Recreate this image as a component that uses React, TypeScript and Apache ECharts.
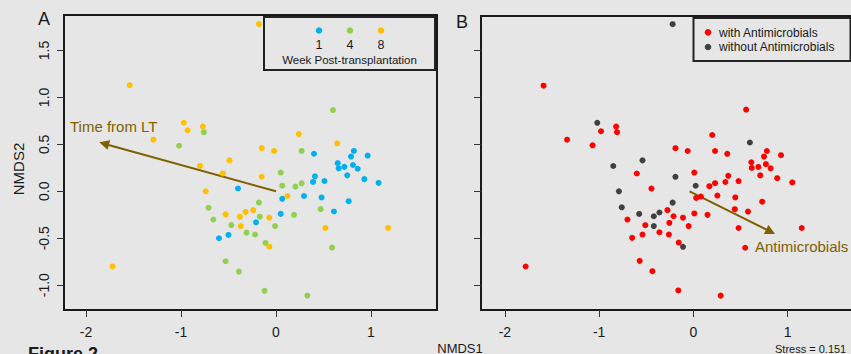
import React, { useEffect, useRef } from "react";
import * as echarts from "echarts";

// Panel A: NMDS coordinates by week post-transplantation
const week1: number[][] = [
  [0.40, 0.40], [0.82, 0.43], [0.79, 0.37], [0.965, 0.38], [0.65, 0.30], [0.66, 0.245],
  [0.72, 0.26], [0.81, 0.28], [0.86, 0.24], [0.75, 0.17], [0.93, 0.13], [1.08, 0.09],
  [0.41, 0.16], [0.39, 0.10], [0.51, 0.11], [0.295, -0.05], [0.48, -0.065], [0.765, -0.105],
  [0.61, -0.215], [0.066, -0.08], [0.05, -0.24], [-0.40, 0.03], [-0.21, -0.33], [-0.50, -0.465],
  [-0.60, -0.50],
];
const week4: number[][] = [
  [0.60, 0.865], [-0.76, 0.63], [-1.02, 0.485], [0.27, 0.43], [0.05, 0.20], [0.066, 0.06],
  [0.205, 0.05], [0.27, 0.085], [-0.18, -0.12], [-0.71, -0.175], [0.47, -0.19], [-0.17, -0.27],
  [0.19, -0.25], [-0.66, -0.30], [-0.47, -0.36], [-0.01, -0.37], [-0.31, -0.44], [-0.22, -0.46],
  [-0.11, -0.55], [0.59, -0.60], [-0.53, -0.745], [-0.39, -0.855], [-0.12, -1.06], [0.33, -1.11],
];
const week8: number[][] = [
  [-0.18, 1.78], [-1.54, 1.13], [-0.97, 0.73], [-0.93, 0.65], [-0.77, 0.69], [-1.29, 0.55],
  [0.24, 0.61], [0.645, 0.51], [-0.15, 0.46], [-0.02, 0.43], [-0.80, 0.27], [-0.49, 0.33],
  [-0.56, 0.19], [-0.15, 0.155], [-0.74, 0.0], [0.12, -0.05], [-0.53, -0.245], [-0.38, -0.27],
  [-0.32, -0.22], [-0.24, -0.20], [-0.07, -0.28], [-0.37, -0.37], [0.52, -0.39], [1.18, -0.39],
  [-0.07, -0.59], [-1.72, -0.80],
];

// Panel B: NMDS coordinates by antimicrobial treatment
const withAntimicrobials: number[][] = [
  [-1.59, 1.125], [0.56, 0.87], [-0.98, 0.64], [-0.82, 0.69], [-0.81, 0.63], [-1.34, 0.55],
  [-1.07, 0.49], [0.20, 0.60], [-0.19, 0.46], [-0.06, 0.43], [0.23, 0.43], [0.36, 0.40],
  [0.78, 0.43], [0.75, 0.37], [0.93, 0.385], [0.615, 0.31], [0.69, 0.26], [0.62, 0.25],
  [0.77, 0.29], [0.82, 0.245], [0.71, 0.17], [0.89, 0.14], [0.37, 0.165], [-0.60, 0.19],
  [0.01, 0.20], [0.17, 0.055], [0.23, 0.087], [0.34, 0.10], [0.48, 0.11], [1.05, 0.095],
  [-0.445, 0.03], [0.08, -0.055], [0.03, -0.07], [0.255, -0.045], [0.445, -0.065], [0.73, -0.11],
  [-0.275, -0.20], [0.44, -0.19], [0.58, -0.215], [-0.21, -0.265], [0.01, -0.235], [0.15, -0.25],
  [-0.70, -0.30], [-0.11, -0.28], [-0.255, -0.335], [-0.51, -0.36], [-0.05, -0.37], [0.48, -0.39],
  [1.15, -0.39], [-0.36, -0.435], [-0.26, -0.46], [-0.54, -0.46], [-0.65, -0.495], [-0.155, -0.545],
  [0.55, -0.60], [-1.78, -0.80], [-0.57, -0.74], [-0.435, -0.85], [-0.16, -1.055], [0.29, -1.11],
];
const withoutAntimicrobials: number[][] = [
  [-0.22, 1.78], [-1.02, 0.73], [0.60, 0.52], [-0.85, 0.27], [-0.54, 0.33], [-0.19, 0.155],
  [0.025, 0.06], [-0.79, 0.0], [-0.22, -0.12], [-0.76, -0.17], [-0.575, -0.24], [-0.42, -0.265],
  [-0.36, -0.225], [-0.42, -0.37], [-0.11, -0.59],
];

// Fitted vectors
const timeVector: number[][] = [[0, 0], [-1.81, 0.507]];
const antimicrobialVector: number[][] = [[-0.04, 0], [0.82, -0.43]];

const xTicks = [-2, -1, 0, 1];
const yTicks = [-1, -0.5, 0, 0.5, 1, 1.5];
const weekLabels = ["1", "4", "8"];

const FONT = "Liberation Sans, Arial, Helvetica, sans-serif";
const BG = "#e6e6e6";
const BLUE = "#00b0f0";
const GREEN = "#92d050";
const ORANGE = "#ffc000";
const RED = "#ff0000";
const DARK = "#404040";
const GOLD = "#7f6000";

export default function App() {
  const ref = useRef<HTMLDivElement>(null);
  useEffect(() => {
    document.body.style.margin = "0";
    if (!ref.current) return;
    const chart = echarts.init(ref.current, undefined, { renderer: "svg" });

    const xAxisCommon = (show: boolean) => ({
      type: "value",
      splitLine: { show: false },
      axisLine: { show: false, onZero: false },
      axisTick: { show: true, inside: false, length: 7, customValues: xTicks, lineStyle: { color: "#333", width: 1 } },
      axisLabel: {
        show,
        customValues: xTicks,
        margin: 15,
        fontSize: 14,
        fontFamily: FONT,
        color: "#1a1a1a",
        formatter: (v: number) => String(v),
      },
    });
    const yAxisCommon = (show: boolean) => ({
      type: "value",
      splitLine: { show: false },
      axisLine: { show: false, onZero: false },
      axisTick: { show: true, inside: false, length: 7, customValues: yTicks, lineStyle: { color: "#333", width: 1 } },
      axisLabel: {
        show,
        customValues: yTicks,
        rotate: 90,
        margin: 13,
        fontSize: 14,
        fontFamily: FONT,
        color: "#1a1a1a",
        formatter: (v: number) => v.toFixed(1),
      },
    });

    const scatter = (data: number[][], color: string, idx: number) => ({
      type: "scatter",
      xAxisIndex: idx,
      yAxisIndex: idx,
      data,
      symbol: "circle",
      symbolSize: 6,
      itemStyle: { color, opacity: 1 },
      silent: true,
    });
    const arrow = (coords: number[][], idx: number) => ({
      type: "lines",
      coordinateSystem: "cartesian2d",
      xAxisIndex: idx,
      yAxisIndex: idx,
      data: [{ coords }],
      symbol: ["none", "triangle"],
      symbolSize: 10,
      lineStyle: { color: GOLD, width: 2, opacity: 1, curveness: 0 },
      itemStyle: { color: GOLD },
      silent: true,
    });

    const txt = (text: string, x: number, y: number, o: any = {}) => ({
      type: "text",
      x,
      y,
      rotation: o.rotation || 0,
      style: {
        text,
        fill: o.fill || "#1a1a1a",
        font: `${o.weight || "normal"} ${o.size || 12}px ${FONT}`,
        align: o.align || "center",
        verticalAlign: o.va || "middle",
      },
      silent: true,
    });

    const legendAColors = [BLUE, GREEN, ORANGE];
    const legendAX = [319, 350, 381];

    chart.setOption({
      animation: false,
      backgroundColor: BG,
      grid: [
        { left: 64, top: 15, width: 373, height: 295, show: true, borderColor: "#1a1a1a", borderWidth: 2, backgroundColor: "transparent", outerBoundsMode: "none" },
        { left: 481, top: 16, width: 373, height: 294, show: true, borderColor: "#1a1a1a", borderWidth: 2, backgroundColor: "transparent", outerBoundsMode: "none" },
      ],
      xAxis: [
        { ...xAxisCommon(true), gridIndex: 0, min: -2.2316, max: 1.695 },
        { ...xAxisCommon(true), gridIndex: 1, min: -2.254, max: 1.705 },
      ],
      yAxis: [
        { ...yAxisCommon(true), gridIndex: 0, min: -1.264, max: 1.8776 },
        { ...yAxisCommon(false), gridIndex: 1, min: -1.263, max: 1.867 },
      ],
      series: [
        arrow(timeVector, 0),
        scatter(week1, BLUE, 0),
        scatter(week4, GREEN, 0),
        scatter(week8, ORANGE, 0),
        arrow(antimicrobialVector, 1),
        scatter(withAntimicrobials, RED, 1),
        scatter(withoutAntimicrobials, DARK, 1),
      ],
      graphic: [
        txt("A", 44, 19, { size: 18 }),
        txt("B", 462, 22, { size: 18 }),
        // legend A
        { type: "rect", shape: { x: 264, y: 17, width: 171, height: 53 }, style: { fill: BG, stroke: "#222", lineWidth: 2 }, silent: true },
        ...legendAColors.map((c, i) => ({ type: "circle", shape: { cx: legendAX[i], cy: 30.5, r: 3.3 }, style: { fill: c }, silent: true })),
        ...weekLabels.map((l, i) => txt(l, legendAX[i], 45, { size: 12.5 })),
        txt("Week Post-transplantation", 349.5, 60, { size: 11.5 }),
        // legend B
        { type: "rect", shape: { x: 693.5, y: 18, width: 157, height: 43 }, style: { fill: BG, stroke: "#222", lineWidth: 2 }, silent: true },
        { type: "circle", shape: { cx: 708, cy: 32.3, r: 3.3 }, style: { fill: RED }, silent: true },
        { type: "circle", shape: { cx: 708, cy: 47, r: 3.3 }, style: { fill: DARK }, silent: true },
        txt("with Antimicrobials", 719, 32.5, { size: 12, align: "left" }),
        txt("without Antimicrobials", 719, 47, { size: 12, align: "left" }),
        // vector labels
        txt("Time from LT", 70, 126, { size: 15, align: "left", fill: GOLD }),
        txt("Antimicrobials", 755, 246, { size: 15, align: "left", fill: GOLD }),
        // axis titles
        txt("NMDS2", 18, 169, { size: 15, rotation: Math.PI / 2 }),
        txt("NMDS1", 460, 348, { size: 13 }),
        txt("Stress = 0.151", 775, 349, { size: 11, align: "left" }),
        txt("Figure 2", 28, 345, { size: 18, weight: "bold", align: "left", va: "top" }),
      ],
    });
    return () => chart.dispose();
  }, []);
  return <div ref={ref} style={{ width: 851, height: 354 }} />;
}
